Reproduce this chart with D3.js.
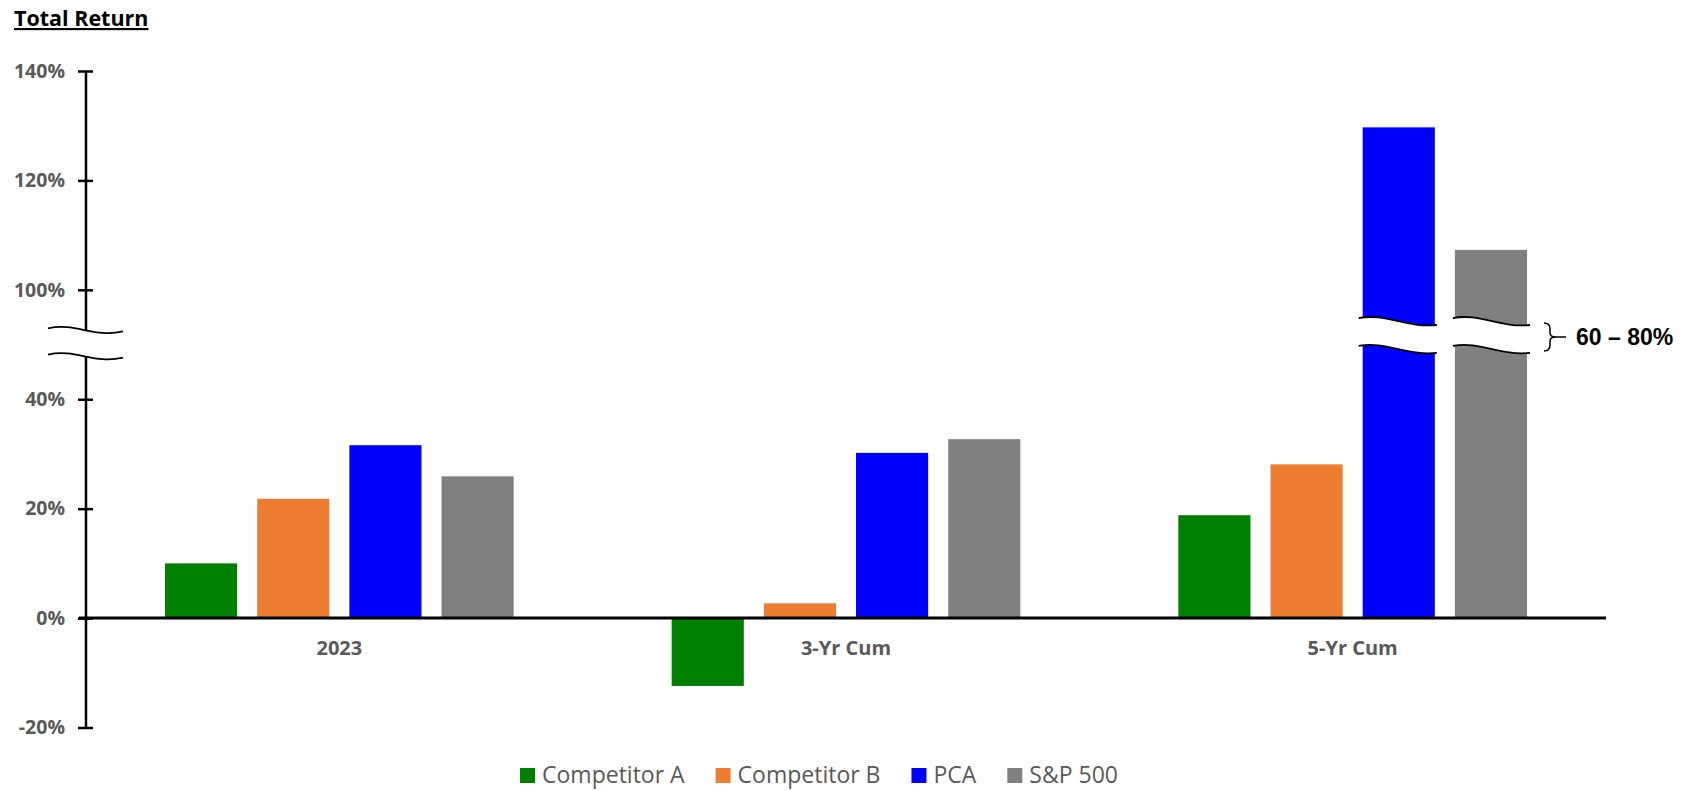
<!DOCTYPE html>
<html>
<head>
<meta charset="utf-8">
<script src="https://cdn.jsdelivr.net/npm/d3@7"></script>
<style>
  body { margin: 0; background: #fff; }
  svg { display: block; }
  .tick-label, .cat-label { font-family: "Open Sans", sans-serif; font-weight: 700; fill: #595959; }
  .legend text { font-family: "Open Sans", sans-serif; fill: #595959; }
</style>
</head>
<body>
<div id="chart"></div>
<script>
// data
var categories = ["2023", "3-Yr Cum", "5-Yr Cum"];
var series = ["Competitor A", "Competitor B", "PCA", "S&P 500"];
var colors = ["#008000", "#ED7D31", "#0000FF", "#808080"];
var competitorA = [10.0, -12.4, 18.8];
var competitorB = [21.8, 2.7, 28.1];
var pca = [31.6, 30.2, 129.7];
var sp500 = [25.9, 32.7, 107.3];
var tickValues = [-20, 0, 20, 40, 100, 120, 140];
var breakLabel = "60 \u2013 80%";

var values = [competitorA, competitorB, pca, sp500];

var width = 1693, height = 791;
var axisX = 86, axisRight = 1606;

var svg = d3.select("#chart").append("svg")
    .attr("width", width)
    .attr("height", height);

// underlying (un-broken) scale, then the broken one: 50..90 collapse to one point
var yU = d3.scaleLinear().domain([-20, 100]).range([727.5, 71]);
var y = d3.scaleLinear()
    .domain([-20, 50, 90, 140])
    .range([yU(-20), yU(50), yU(50), yU(100)]);

var x0 = d3.scaleBand().domain(categories).range([axisX, axisRight]);
var x1 = d3.scaleBand().domain(series)
    .range([79, x0.bandwidth() - 79])
    .paddingInner(20 / 92);

// title
svg.append("text")
    .attr("x", 14).attr("y", 26)
    .style("font-family", "Open Sans, sans-serif")
    .style("font-weight", 700)
    .style("font-size", "21.5px")
    .style("text-decoration", "underline")
    .attr("fill", "#000")
    .text("Total Return");

// bars
var groups = svg.append("g").selectAll("g")
    .data(categories)
    .enter().append("g")
    .attr("transform", function(d) { return "translate(" + x0(d) + ",0)"; });

groups.selectAll("rect")
    .data(function(c, ci) {
      return series.map(function(s, si) { return {s: s, i: si, v: values[si][ci]}; });
    })
    .enter().append("rect")
    .attr("x", function(d) { return x1(d.s); })
    .attr("width", x1.bandwidth())
    .attr("y", function(d) { return Math.min(y(d.v), y(0)); })
    .attr("height", function(d) { return Math.abs(y(d.v) - y(0)); })
    .attr("fill", function(d) { return colors[d.i]; });

// wavy break on the two tall bars
function wave(xa, xb, yy) {
  var w = xb - xa;
  return "M" + xa + "," + (yy - 3) +
    " C" + (xa + w * 0.35) + "," + (yy - 8) + " " + (xa + w * 0.6) + "," + (yy + 7) + " " + xb + "," + (yy + 4);
}
var breakTop = yU(54.3), breakBot = yU(49.2);
var bx0 = x0("5-Yr Cum") + x1("PCA") - 4;
var bx1 = x0("5-Yr Cum") + x1("S&P 500") + x1.bandwidth() + 3;
[[bx0, x0("5-Yr Cum") + x1("PCA") + x1.bandwidth() + 2], [x0("5-Yr Cum") + x1("S&P 500") - 2, bx1]].forEach(function(seg) {
  svg.append("path")
    .attr("d", wave(seg[0], seg[1], breakTop) + " L" + seg[1] + "," + (breakBot + 4) +
      " C" + (seg[0] + (seg[1] - seg[0]) * 0.6) + "," + (breakBot + 7) + " " +
      (seg[0] + (seg[1] - seg[0]) * 0.35) + "," + (breakBot - 8) + " " + seg[0] + "," + (breakBot - 3) + "Z")
    .attr("fill", "#fff");
  svg.append("path").attr("d", wave(seg[0], seg[1], breakTop))
    .attr("fill", "none").attr("stroke", "#000").attr("stroke-width", 1.8);
  svg.append("path").attr("d", wave(seg[0], seg[1], breakBot))
    .attr("fill", "none").attr("stroke", "#000").attr("stroke-width", 1.8);
});

// brace + label
var bTop = breakTop + 2, bBot = breakBot + 2, bMid = (bTop + bBot) / 2;
var brX = bx1 + 14;
svg.append("path")
    .attr("d", "M" + brX + "," + bTop +
      " Q" + (brX + 6) + "," + bTop + " " + (brX + 6) + "," + (bTop + 6) +
      " L" + (brX + 6) + "," + (bMid - 4) +
      " Q" + (brX + 6) + "," + bMid + " " + (brX + 12) + "," + bMid +
      " Q" + (brX + 6) + "," + bMid + " " + (brX + 6) + "," + (bMid + 4) +
      " L" + (brX + 6) + "," + (bBot - 6) +
      " Q" + (brX + 6) + "," + bBot + " " + brX + "," + bBot +
      " M" + (brX + 12) + "," + bMid + " L" + (brX + 22) + "," + bMid)
    .attr("fill", "none").attr("stroke", "#000").attr("stroke-width", 1.5);
svg.append("text")
    .attr("x", brX + 32).attr("y", bMid)
    .attr("dy", "0.36em")
    .style("font-family", "Liberation Sans, Arial, sans-serif")
    .style("font-weight", 700)
    .style("font-size", "23px")
    .attr("fill", "#000")
    .text(breakLabel);

// y axis
var yAxis = d3.axisLeft(y)
    .tickValues(tickValues)
    .tickSize(0)
    .tickPadding(21)
    .tickFormat(function(d) { return d + "%"; });
var ya = svg.append("g").attr("transform", "translate(" + axisX + ",0)").call(yAxis);
ya.select(".domain").remove();
ya.selectAll("text").attr("class", "tick-label").style("font-size", "19.5px").attr("fill", null).attr("font-family", null).attr("font-size", null);
ya.selectAll(".tick").append("line")
    .attr("x1", -8).attr("x2", 7)
    .attr("stroke", "#000").attr("stroke-width", 2.5);

// vertical axis line with gap at the break
var axTop = yU(52.6), axBot = yU(47.8);
svg.append("line").attr("x1", axisX).attr("x2", axisX).attr("y1", y(140)).attr("y2", axTop)
    .attr("stroke", "#000").attr("stroke-width", 2.5);
svg.append("line").attr("x1", axisX).attr("x2", axisX).attr("y1", axBot).attr("y2", y(-20))
    .attr("stroke", "#000").attr("stroke-width", 2.5);
[axTop, axBot].forEach(function(yy) {
  svg.append("path")
    .attr("d", "M" + (axisX - 38) + "," + (yy - 2) + " C" + (axisX - 10) + "," + (yy - 8) + " " +
      (axisX + 8) + "," + (yy + 8) + " " + (axisX + 37) + "," + (yy + 1))
    .attr("fill", "none").attr("stroke", "#000").attr("stroke-width", 1.8);
});

// x axis line at zero
svg.append("line")
    .attr("x1", axisX - 7).attr("x2", axisRight)
    .attr("y1", y(0)).attr("y2", y(0))
    .attr("stroke", "#000").attr("stroke-width", 3);

// category labels
svg.selectAll(".cat-label")
    .data(categories)
    .enter().append("text")
    .attr("class", "cat-label")
    .attr("x", function(d) { return x0(d) + x0.bandwidth() / 2; })
    .attr("y", y(0) + 37)
    .attr("text-anchor", "middle")
    .style("font-size", "20px")
    .text(function(d) { return d; });

// legend
var legend = svg.append("g").attr("class", "legend");
var items = legend.selectAll("g").data(series).enter().append("g");
items.append("rect")
    .attr("width", 15).attr("height", 15)
    .attr("y", 768)
    .attr("fill", function(d, i) { return colors[i]; });
items.append("text")
    .attr("x", 22).attr("y", 783)
    .style("font-size", "23px")
    .text(function(d) { return d; });
var pos = 0, offsets = [];
items.each(function() {
  offsets.push(pos);
  pos += 22 + d3.select(this).select("text").node().getComputedTextLength() + 31;
});
var total = pos - 31;
var start = 819 - total / 2;
items.attr("transform", function(d, i) { return "translate(" + (start + offsets[i]) + ",0)"; });
</script>
</body>
</html>
